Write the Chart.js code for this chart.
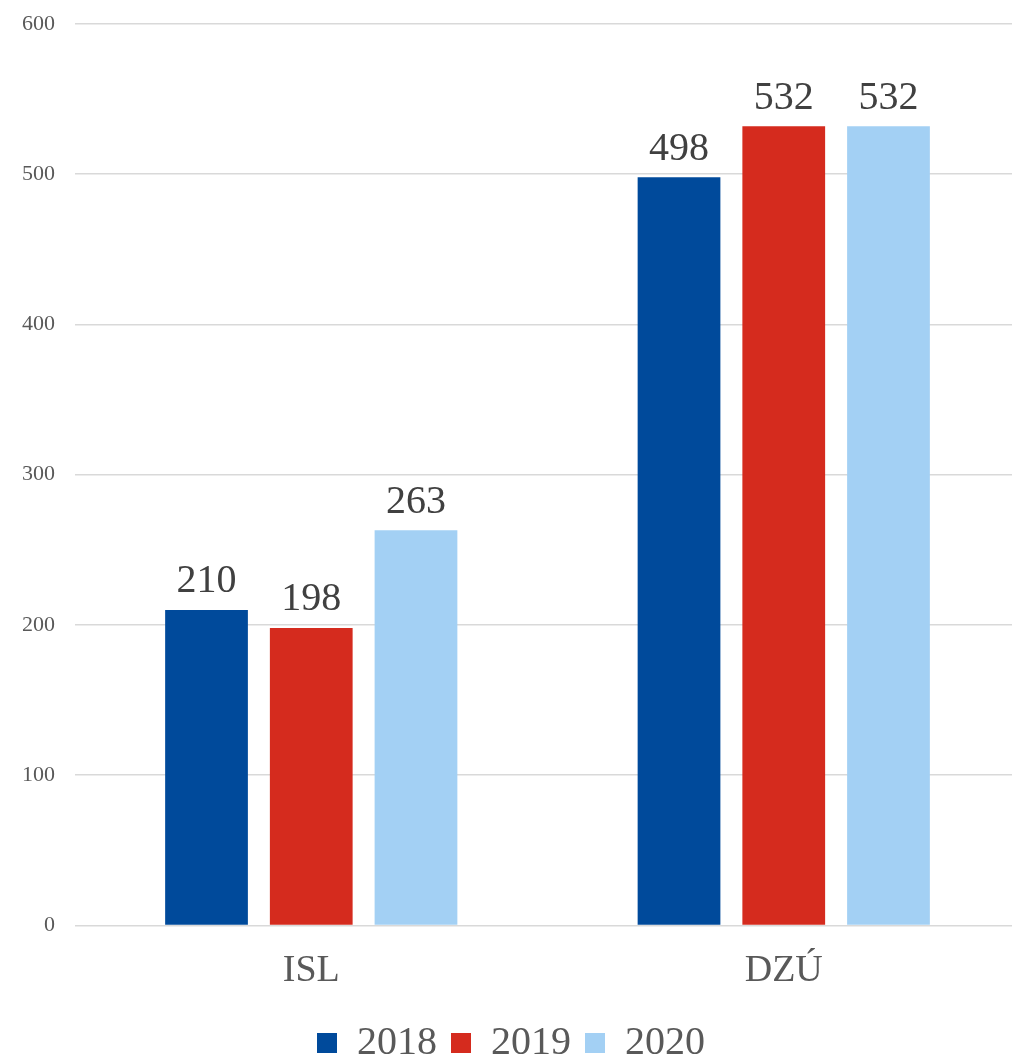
<!DOCTYPE html>
<html>
<head>
<meta charset="utf-8">
<script src="https://cdn.jsdelivr.net/npm/chart.js@4"></script>
<style>
  html, body { margin: 0; padding: 0; background: #fff; overflow: hidden; }
  #wrap { width: 1020px; height: 1057px; }
</style>
</head>
<body>
<div id="wrap"><canvas id="chart"></canvas></div>
<script>
// data
const categories = ['ISL', 'DZÚ'];
const seriesNames = ['2018', '2019', '2020'];
const values2018 = [210, 498];
const values2019 = [198, 532];
const values2020 = [263, 532];
const seriesColors = ['#004a9b', '#d52b1e', '#a3d0f4'];
const yTicks = [0, 100, 200, 300, 400, 500, 600];

const FONT = "'Liberation Serif', 'DejaVu Serif', serif";

// simple value labels above each bar
const barLabels = {
  id: 'barLabels',
  afterDatasetsDraw(chart) {
    const ctx = chart.ctx;
    ctx.save();
    ctx.font = '40px ' + FONT;
    ctx.fillStyle = '#404040';
    ctx.textAlign = 'center';
    ctx.textBaseline = 'bottom';
    chart.data.datasets.forEach((ds, i) => {
      chart.getDatasetMeta(i).data.forEach((bar, j) => {
        ctx.fillText(ds.data[j], bar.x, bar.y - 8);
      });
    });
    ctx.restore();
  }
};

const allValues = [values2018, values2019, values2020];

new Chart(document.getElementById('chart'), {
  type: 'bar',
  data: {
    labels: categories,
    datasets: seriesNames.map((name, i) => ({
      label: name,
      data: allValues[i],
      backgroundColor: seriesColors[i],
      categoryPercentage: 0.665,
      barPercentage: 0.79
    }))
  },
  options: {
    responsive: true,
    maintainAspectRatio: false,
    animation: false,
    layout: { padding: { left: 2, right: 0, top: 24, bottom: -16 } },
    plugins: {
      legend: {
        position: 'bottom',
        labels: {
          boxWidth: 20,
          boxHeight: 20,
          padding: 14,
          color: '#595959',
          font: { family: FONT, size: 40 }
        }
      },
      tooltip: { enabled: false }
    },
    scales: {
      x: {
        grid: { display: false },
        border: { display: false },
        ticks: { color: '#595959', font: { family: FONT, size: 38 }, padding: 15 }
      },
      y: {
        min: 0,
        max: 600,
        afterBuildTicks: axis => { axis.ticks = yTicks.map(v => ({ value: v })); },
        afterFit: axis => { axis.paddingTop = 0; axis.paddingBottom = 0; },
        grid: { color: '#d9d9d9', lineWidth: 1.5, drawTicks: false },
        border: { display: false },
        ticks: { color: '#595959', font: { family: FONT, size: 22 }, padding: 20 }
      }
    }
  },
  plugins: [barLabels]
});
</script>
</body>
</html>
